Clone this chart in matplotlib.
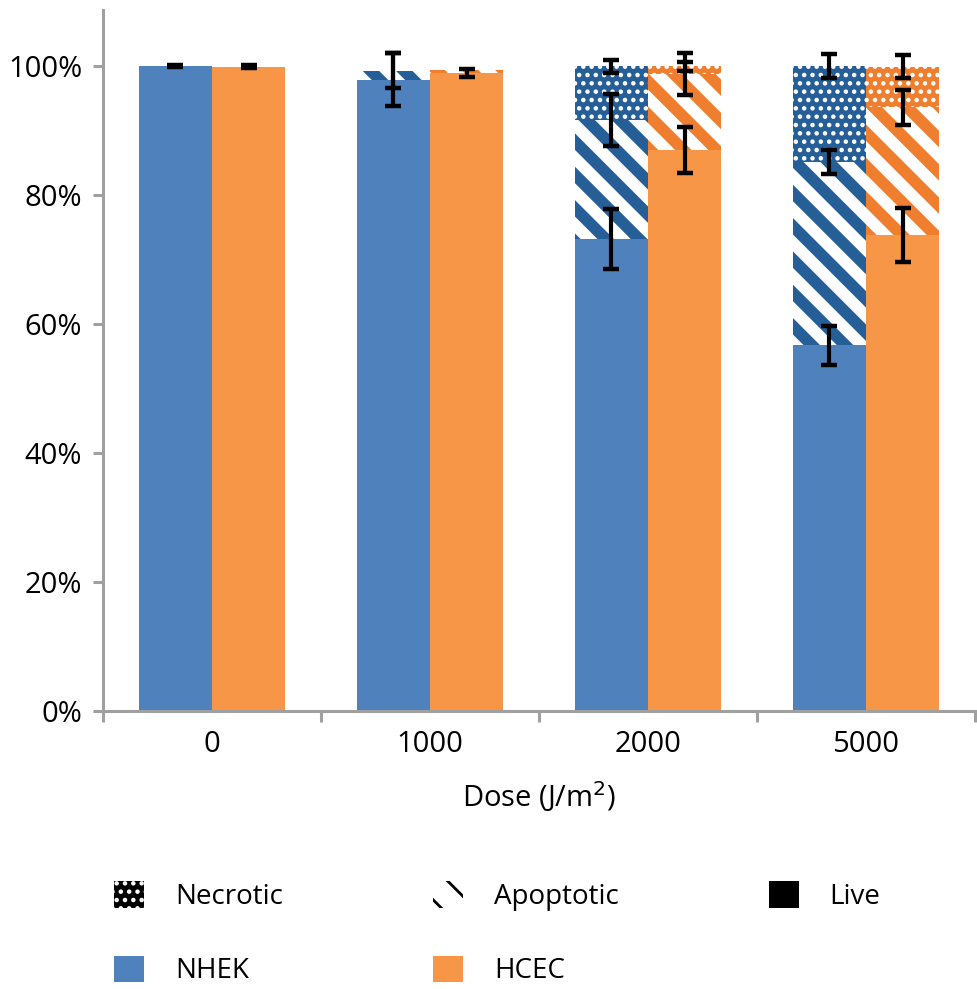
import numpy as np
import matplotlib
matplotlib.use("Agg")
import matplotlib.pyplot as plt
from matplotlib.patches import Patch
from matplotlib.ticker import FuncFormatter

# ── data (percent of cells, stacked live -> apoptotic -> necrotic) ──────────
doses = ["0", "1000", "2000", "5000"]

nhek_live = [100.0, 97.9, 73.2, 56.7]
nhek_apop = [0.0, 1.4, 18.4, 28.4]
nhek_necr = [0.0, 0.0, 8.4, 14.9]
hcec_live = [99.9, 98.9, 87.0, 73.8]
hcec_apop = [0.0, 0.5, 11.8, 19.8]
hcec_necr = [0.0, 0.0, 1.2, 6.3]

nhek_live_err = [0.2, 4.1, 4.7, 3.0]
nhek_apop_err = [0.0, 2.7, 4.0, 1.9]
nhek_necr_err = [0.0, 0.0, 1.0, 1.9]
hcec_live_err = [0.2, 0.6, 3.6, 4.2]
hcec_apop_err = [0.0, 0.0, 3.3, 2.7]
hcec_necr_err = [0.0, 0.0, 0.7, 1.8]

NHEK_C, NHEK_D = "#4f81bd", "#265f97"
HCEC_C, HCEC_D = "#f79646", "#ef7e2e"
AXIS_C = "#a0a0a0"
APOP_HATCH, APOP_LW = "\\\\", 4.2
NECR_HATCH, NECR_LW = "....", 1.0

plt.rcParams["font.family"] = ["Open Sans", "DejaVu Sans"]
plt.rcParams["font.size"] = 10

fig = plt.figure(figsize=(977 / 200, 989 / 200), dpi=200)
ax = fig.add_axes([0.1054, 0.2811, 0.8926, 0.7088])

x = np.arange(len(doses))
w = 0.336


def set_hlw(bars, lw):
    for p in bars:
        if hasattr(p, "set_hatch_linewidth"):
            p.set_hatch_linewidth(lw)


def stack(xpos, live, apop, necr, lc, dc):
    live = np.array(live)
    apop = np.array(apop)
    necr = np.array(necr)
    ax.bar(xpos, live, w, color=lc, linewidth=0)
    with plt.rc_context({"hatch.linewidth": APOP_LW}):
        b = ax.bar(xpos, apop, w, bottom=live, facecolor="white",
                   edgecolor=dc, hatch=APOP_HATCH, linewidth=0)
    set_hlw(b, APOP_LW)
    with plt.rc_context({"hatch.linewidth": NECR_LW}):
        b = ax.bar(xpos, necr, w, bottom=live + apop, facecolor=dc,
                   edgecolor="white", hatch=NECR_HATCH, linewidth=0)
    set_hlw(b, NECR_LW)


def errs(xpos, tops, err):
    tops = np.array(tops)
    err = np.array(err)
    m = err > 0
    ax.errorbar(xpos[m], tops[m], yerr=err[m], fmt="none", ecolor="black",
                elinewidth=1.5, capsize=3, capthick=1.6, zorder=5)


stack(x - w / 2, nhek_live, nhek_apop, nhek_necr, NHEK_C, NHEK_D)
stack(x + w / 2, hcec_live, hcec_apop, hcec_necr, HCEC_C, HCEC_D)

for xpos, live, apop, necr, le, ae, ne in [
        (x - w / 2, nhek_live, nhek_apop, nhek_necr, nhek_live_err, nhek_apop_err, nhek_necr_err),
        (x + w / 2, hcec_live, hcec_apop, hcec_necr, hcec_live_err, hcec_apop_err, hcec_necr_err)]:
    l = np.array(live)
    a = l + np.array(apop)
    n = a + np.array(necr)
    errs(xpos, l, le)
    errs(xpos, a, ae)
    errs(xpos, n, ne)

ax.set_xlim(-0.5, 3.5)
ax.set_ylim(0, 108.7)
ax.set_yticks([0, 20, 40, 60, 80, 100])
ax.yaxis.set_major_formatter(FuncFormatter(lambda v, _: f"{v:.0f}%"))
ax.set_xticks(x)
ax.set_xticklabels(doses)
ax.set_xticks(np.arange(-0.5, 4, 1.0), minor=True)
ax.tick_params(axis="x", which="major", length=0, pad=7, labelsize=10.5)
ax.tick_params(axis="x", which="minor", length=4, width=1.1, color=AXIS_C)
ax.tick_params(axis="y", length=3.5, width=1.1, color=AXIS_C, pad=4, labelsize=10.5)
for s in ("top", "right"):
    ax.spines[s].set_visible(False)
for s in ("left", "bottom"):
    ax.spines[s].set_color(AXIS_C)
    ax.spines[s].set_linewidth(1.1)
ax.set_xlabel("Dose (J/m$^{2}$)", fontsize=10.5, labelpad=7)

# legend
h_necr = Patch(facecolor="black", edgecolor="white", hatch=NECR_HATCH, linewidth=0)
h_apop = Patch(facecolor="white", edgecolor="black", hatch=APOP_HATCH, linewidth=0)
set_hlw([h_necr], NECR_LW)
set_hlw([h_apop], APOP_LW)
h_live = Patch(facecolor="black", linewidth=0)
h_nhek = Patch(facecolor=NHEK_C, linewidth=0)
h_hcec = Patch(facecolor=HCEC_C, linewidth=0)
fig.legend([h_necr, h_nhek, h_apop, h_hcec, h_live],
           ["Necrotic", "NHEK", "Apoptotic", "HCEC", "Live"],
           ncol=3, frameon=False, loc="upper left",
           bbox_to_anchor=(0.105, 0.120), bbox_transform=fig.transFigure,
           handlelength=1.1, handleheight=1.1, handletextpad=1.1,
           columnspacing=5.4, labelspacing=1.6, fontsize=10, borderaxespad=0)

fig.savefig("out.png", dpi=200)
